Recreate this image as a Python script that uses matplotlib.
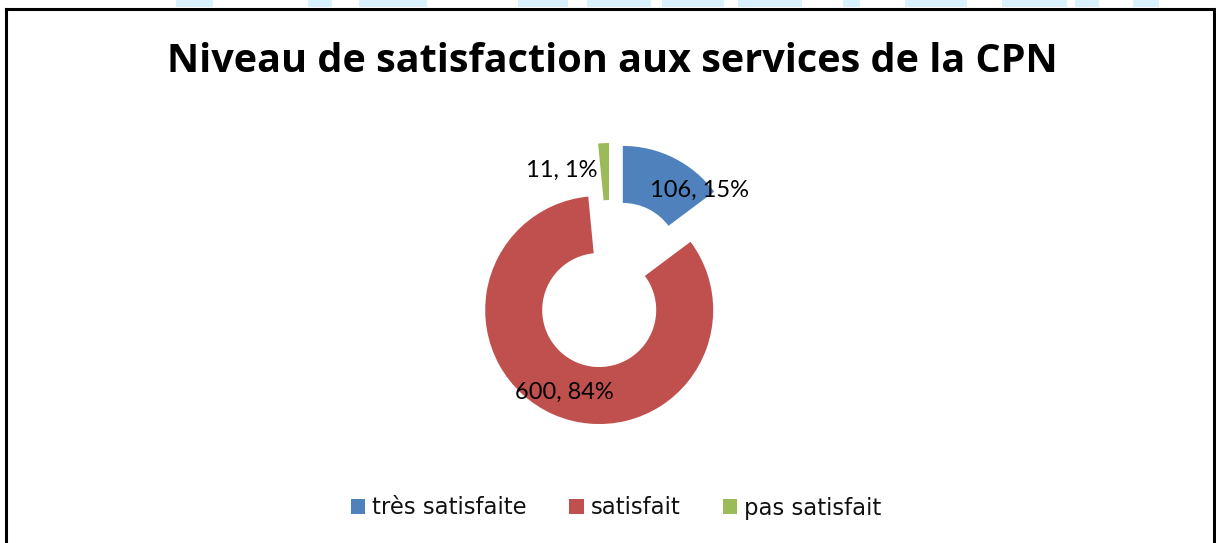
import numpy as np
import matplotlib.pyplot as plt
from matplotlib.lines import Line2D
from matplotlib.patches import Rectangle

W, H = 1216, 543

categories = ["très satisfaite", "satisfait", "pas satisfait"]
counts = [106, 600, 11]
percents = [15, 84, 1]
colors = ["#4F81BD", "#C0504D", "#9BBB59"]

# label anchor points (in pie radius units, relative to pie centre)
label_pos = [(0.78, 0.83), (-0.40, -0.94), (-0.43, 1.00)]

# faint watermark fragments along the top edge (pixel spans)
wm_spans = [(176, 213), (308, 332), (359, 427), (518, 568), (587, 651),
            (662, 724), (738, 802), (843, 860), (905, 967), (1002, 1067),
            (1075, 1099), (1133, 1159)]

fig = plt.figure(figsize=(W / 100, H / 100), dpi=100)
fig.patch.set_facecolor("white")

# pie axes, centred on the un-exploded pie centre
cx, cy = 610.4, H - 284.7
r_px = 114.0
half = 230.0
ax = fig.add_axes([(cx - half) / W, (cy - half) / H, 2 * half / W, 2 * half / H])
ax.axis("off")

wedges, _ = ax.pie(
    counts,
    colors=colors,
    startangle=90,
    counterclock=False,
    explode=[0.243] * 3,
    radius=1.0,
    wedgeprops=dict(width=0.5, linewidth=0),
)
ax.set_xlim(-half / r_px, half / r_px)
ax.set_ylim(-half / r_px, half / r_px)
ax.set_aspect("equal")

for (x, y), n, p in zip(label_pos, counts, percents):
    ax.text(x, y, f"{n}, {p}%", ha="center", va="center", fontsize=17,
            family="Lato", color="black")

fig.text(612 / W, 1 - 61 / H, "Niveau de satisfaction aux services de la CPN",
         ha="center", va="center", fontsize=28.5, fontweight="bold",
         family="Open Sans")

leg = fig.legend(wedges, categories, loc="center", bbox_to_anchor=(616 / W, 1 - 508 / H),
                 ncol=3, frameon=False, handlelength=0.65, handleheight=0.65,
                 handletextpad=0.3, columnspacing=1.85,
                 prop=dict(family="DejaVu Sans", size=16.4))
for t in leg.get_texts():
    t.set_color("#111111")

# border (left, top, right)
lw = 2.2
kw = dict(color="black", lw=lw, transform=fig.transFigure)
fig.add_artist(Line2D([5.5 / W, 5.5 / W], [0, 1 - 8.5 / H], **kw))
fig.add_artist(Line2D([5.5 / W, 1213.5 / W], [1 - 8.5 / H, 1 - 8.5 / H], **kw))
fig.add_artist(Line2D([1213.5 / W, 1213.5 / W], [0, 1 - 8.5 / H], **kw))

for x0, x1 in wm_spans:
    fig.add_artist(Rectangle((x0 / W, 1 - 7 / H), (x1 - x0) / W, 7 / H,
                             facecolor="#d9f1fc", edgecolor="none",
                             transform=fig.transFigure))

fig.savefig("out.png", dpi=100)
